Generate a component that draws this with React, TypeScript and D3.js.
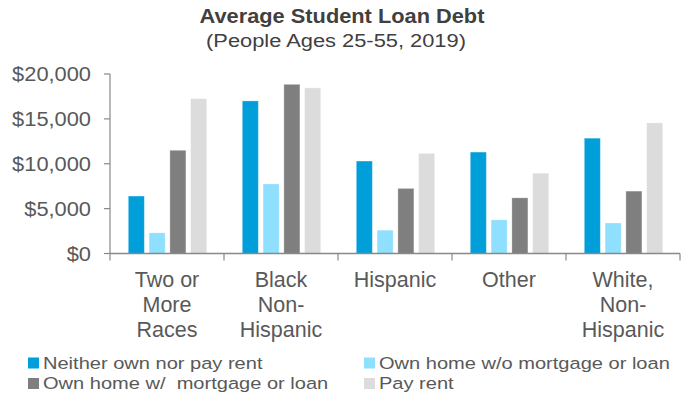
import React from "react";
import * as d3 from "d3";

const categories: string[][] = [
  ["Two or", "More", "Races"],
  ["Black", "Non-", "Hispanic"],
  ["Hispanic"],
  ["Other"],
  ["White,", "Non-", "Hispanic"],
];
const seriesNames = [
  "Neither own nor pay rent",
  "Own home w/o mortgage or loan",
  "Own home w/  mortgage or loan",
  "Pay rent",
];
const neither = [6400, 17000, 10300, 11300, 12850];
const ownNoMortgage = [2300, 7750, 2600, 3750, 3400];
const ownMortgage = [11500, 18850, 7250, 6200, 6950];
const payRent = [17250, 18450, 11150, 8950, 14550];
const yTicks = [0, 5000, 10000, 15000, 20000];

const colors = ["#009FDA", "#8FDFFF", "#7F7F7F", "#DCDCDC"];
const series = [neither, ownNoMortgage, ownMortgage, payRent];

export default function App() {
  const W = 686, H = 398;
  const x0 = 110, x1 = 680, yTop = 74, yBot = 253.5;
  const x = d3.scaleBand<number>().domain(d3.range(categories.length)).range([x0, x1]).paddingInner(0).paddingOuter(0);
  const y = d3.scaleLinear().domain([0, 20000]).range([yBot, yTop]);
  const inner = d3.scaleBand<number>().domain(d3.range(series.length)).range([18.3, x.bandwidth() - 17.3]).paddingInner(0.23).paddingOuter(0);
  const font = "'Liberation Sans', Arial, sans-serif";
  const textColor = "#595959";
  const axisColor = "#898989";
  const fmt = (v: number) => "$" + d3.format(",")(v);
  const bounds = d3.range(categories.length + 1).map((i) => x0 + i * x.bandwidth());

  return (
    <svg width={W} height={H} style={{ position: "absolute", left: 0, top: 0, background: "#fff" }} fontFamily={font}>
      <text transform="translate(342,23) scale(1.09,1)" textAnchor="middle" fontSize={20} fontWeight="bold" fill="#404040">Average Student Loan Debt</text>
      <text transform="translate(336,47) scale(1.15,1)" textAnchor="middle" fontSize={19} fill="#404040">(People Ages 25-55, 2019)</text>

      {series.map((vals, s) =>
        vals.map((v, i) => (
          <rect key={`${s}-${i}`} x={(x(i) as number) + (inner(s) as number)} y={y(v)} width={inner.bandwidth()} height={yBot - y(v)} fill={colors[s]} stroke="#ffffff" strokeOpacity={0.35} strokeWidth={0.8} />
        ))
      )}

      <line x1={x0} x2={x0} y1={yTop} y2={yBot} stroke={axisColor} strokeWidth={1.2} />
      {yTicks.map((t) => (
        <g key={t}>
          <line x1={x0 - 6} x2={x0} y1={y(t)} y2={y(t)} stroke={axisColor} strokeWidth={1.2} />
          <text transform={`translate(91,${y(t)}) scale(1.12,1)`} dy="0.36em" textAnchor="end" fontSize={19.5} fill={textColor}>{fmt(t)}</text>
        </g>
      ))}
      <line x1={x0} x2={x1} y1={yBot} y2={yBot} stroke={axisColor} strokeWidth={1.5} />
      {bounds.map((b, i) => (
        <line key={i} x1={b} x2={b} y1={yBot} y2={yBot + 7} stroke={axisColor} strokeWidth={1.2} />
      ))}
      {categories.map((lines, i) => (
        <text key={i} textAnchor="middle" fontSize={21.5} fill={textColor}>
          {lines.map((l, j) => (
            <tspan key={j} x={(x(i) as number) + x.bandwidth() / 2} y={287 + j * 25}>{l}</tspan>
          ))}
        </text>
      ))}

      {seriesNames.map((n, s) => {
        const col = s % 2, row = Math.floor(s / 2);
        const lx = col === 0 ? 28 : 364;
        const ly = 368.5 + row * 20.5;
        return (
          <g key={n}>
            <rect x={lx} y={ly - 11} width={11} height={11} fill={colors[s]} />
            <text transform={`translate(${lx + 15},${ly}) scale(1.18,1)`} fontSize={17} fill={textColor} style={{ whiteSpace: "pre" }}>{n}</text>
          </g>
        );
      })}
    </svg>
  );
}
